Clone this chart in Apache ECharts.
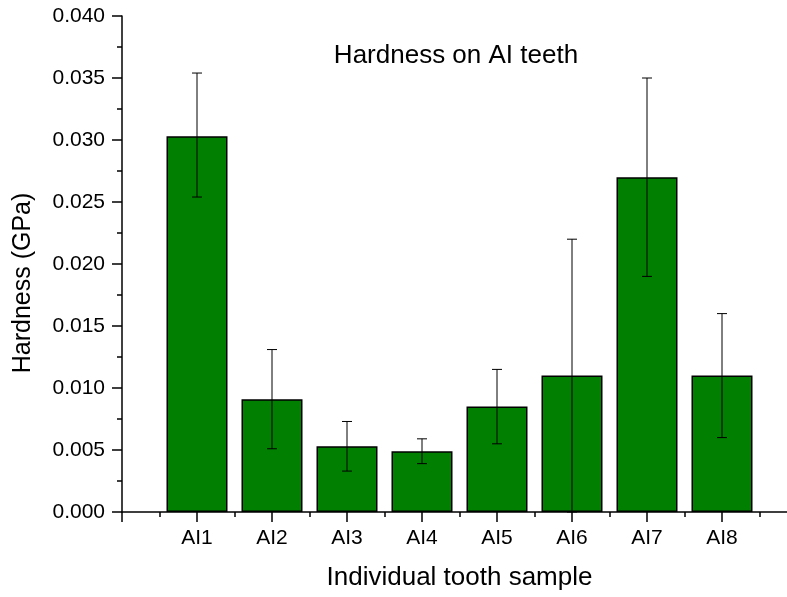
<!DOCTYPE html>
<html>
<head>
<meta charset="utf-8">
<script src="https://cdn.jsdelivr.net/npm/echarts@6/dist/echarts.min.js"></script>
<style>
  html, body { margin: 0; padding: 0; background: #fff; }
  #main { width: 787px; height: 597px; }
</style>
</head>
<body>
<div id="main"></div>
<script>
// Data
const samples = ['AI1', 'AI2', 'AI3', 'AI4', 'AI5', 'AI6', 'AI7', 'AI8'];
const hardness = [0.0303, 0.0091, 0.0053, 0.0049, 0.0085, 0.0110, 0.0270, 0.0110];
const errLow = [0.0254, 0.0051, 0.0033, 0.0039, 0.0055, 0.0000, 0.0190, 0.0060];
const errHigh = [0.0354, 0.0131, 0.0073, 0.0059, 0.0115, 0.0220, 0.0350, 0.0160];

const chart = echarts.init(document.getElementById('main'));
const font = 'Liberation Sans, Arial, sans-serif';

const barData = hardness.map((v, i) => [i + 1, v]);
const errData = samples.map((s, i) => [i + 1, errLow[i], errHigh[i]]);

const option = {
    backgroundColor: '#fff',
    animation: false,
    title: {
        text: 'Hardness on AI teeth',
        left: 451,
        top: 38,
        textAlign: 'center',
        textStyle: { fontFamily: font, fontSize: 26, fontWeight: 'normal', color: '#000' }
    },
    grid: { left: 122, top: 16, width: 675, bottom: 85, outerBoundsMode: 'none' },
    xAxis: {
        type: 'value',
        min: 0,
        max: 9,
        interval: 1,
        name: 'Individual tooth sample',
        nameLocation: 'middle',
        nameGap: 53,
        nameTextStyle: { fontFamily: font, fontSize: 26, color: '#000' },
        axisLine: { lineStyle: { color: '#000', width: 1.5 } },
        axisTick: { length: 10, lineStyle: { color: '#000', width: 1.5 } },
        minorTick: { show: true, splitNumber: 2, length: 5, lineStyle: { color: '#000', width: 1.5 } },
        splitLine: { show: false },
        axisLabel: {
            fontFamily: font, fontSize: 21, color: '#000', margin: 16,
            formatter: v => (v >= 1 && v <= samples.length && Number.isInteger(v)) ? samples[v - 1] : ''
        }
    },
    yAxis: {
        type: 'value',
        min: 0,
        max: 0.04,
        interval: 0.005,
        name: 'Hardness (GPa)',
        nameLocation: 'middle',
        nameGap: 86,
        nameTextStyle: { fontFamily: font, fontSize: 25, color: '#000', padding: [0, 38, 0, 0] },
        axisLine: { show: true, lineStyle: { color: '#000', width: 1.5 } },
        axisTick: { show: true, length: 10, lineStyle: { color: '#000', width: 1.5 } },
        minorTick: { show: true, splitNumber: 2, length: 5, lineStyle: { color: '#000', width: 1.5 } },
        splitLine: { show: false },
        axisLabel: {
            fontFamily: font, fontSize: 21, color: '#000', margin: 17,
            formatter: v => v.toFixed(3)
        }
    },
    series: [
        {
            type: 'bar',
            data: barData,
            barWidth: 61,
            itemStyle: { color: '#007f00', borderColor: '#000', borderWidth: 1.5 }
        },
        {
            type: 'custom',
            data: errData,
            z: 10,
            renderItem: function (params, api) {
                const x = api.value(0);
                const lo = api.coord([x, api.value(1)]);
                const hi = api.coord([x, api.value(2)]);
                const half = 5;
                const style = { stroke: '#000', lineWidth: 1 };
                return {
                    type: 'group',
                    children: [
                        { type: 'line', shape: { x1: lo[0], y1: lo[1], x2: hi[0], y2: hi[1] }, style: style },
                        { type: 'line', shape: { x1: hi[0] - half, y1: hi[1], x2: hi[0] + half, y2: hi[1] }, style: style },
                        { type: 'line', shape: { x1: lo[0] - half, y1: lo[1], x2: lo[0] + half, y2: lo[1] }, style: style }
                    ]
                };
            }
        }
    ]
};

chart.setOption(option);
window.addEventListener('resize', function () {
    chart.resize();
});
</script>
</body>
</html>
